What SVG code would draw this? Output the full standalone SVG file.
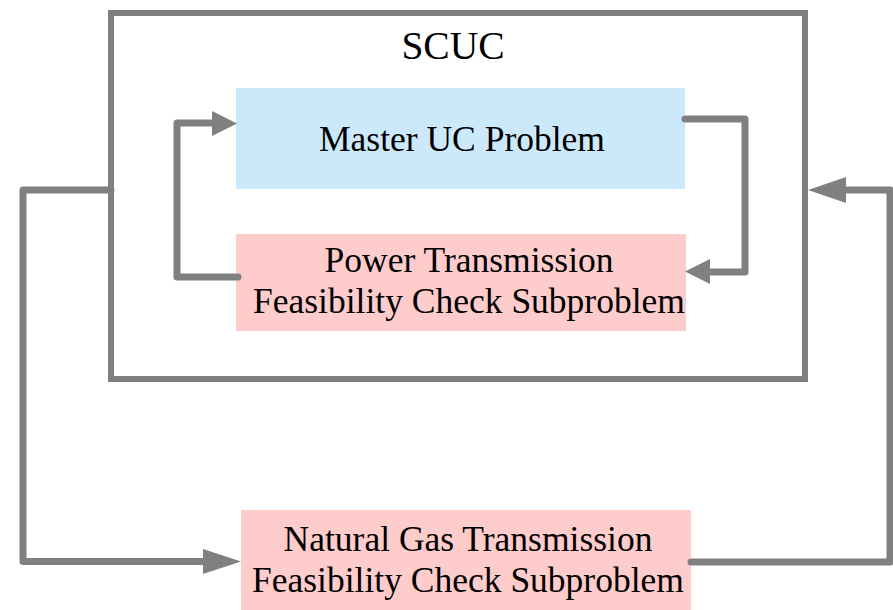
<svg xmlns="http://www.w3.org/2000/svg" width="893" height="610" viewBox="0 0 893 610">
<style>
.lbl{font-family:"Liberation Serif","Times New Roman",serif;font-size:35.5px;fill:#000;text-anchor:middle}
.conn{fill:none;stroke:#808080;stroke-width:7;stroke-linejoin:round;stroke-linecap:round}
.head{fill:#808080}
</style>
<rect width="893" height="610" fill="#fff"/>
<g id="scuc">
<rect x="111" y="13" width="694" height="366" fill="none" stroke="#808080" stroke-width="6"/>
<text class="lbl" x="453" y="59" style="font-size:39.5px">SCUC</text>
</g>
<g id="master">
<rect x="236" y="88" width="449" height="101" fill="#cce9fc"/>
<text class="lbl" x="462" y="151">Master UC Problem</text>
</g>
<g id="power">
<rect x="236" y="234" width="450" height="97" fill="#ffcccc"/>
<text class="lbl" x="469" y="272">Power Transmission</text>
<text class="lbl" x="469" y="313">Feasibility Check Subproblem</text>
</g>
<g id="gas">
<rect x="241" y="510" width="450" height="100" fill="#ffcccc"/>
<text class="lbl" x="468" y="551">Natural Gas Transmission</text>
<text class="lbl" x="468" y="592">Feasibility Check Subproblem</text>
</g>
<g id="connectors">
<polyline class="conn" points="238,277 177,277 177,123 213,123"/>
<polygon class="head" points="212,111 237,123.5 212,136"/>
<polyline class="conn" points="685,119 745,119 745,272 710,272"/>
<polygon class="head" points="710,259 685,271.5 710,284"/>
<polyline class="conn" points="111,190 23,190 23,561.5 205,561.5"/>
<polygon class="head" points="203,549 241,561.5 203,574"/>
<polyline class="conn" points="691,562 890,562 890,190 846,190"/>
<polygon class="head" points="846,177 808,190 846,203"/>
</g>
</svg>
